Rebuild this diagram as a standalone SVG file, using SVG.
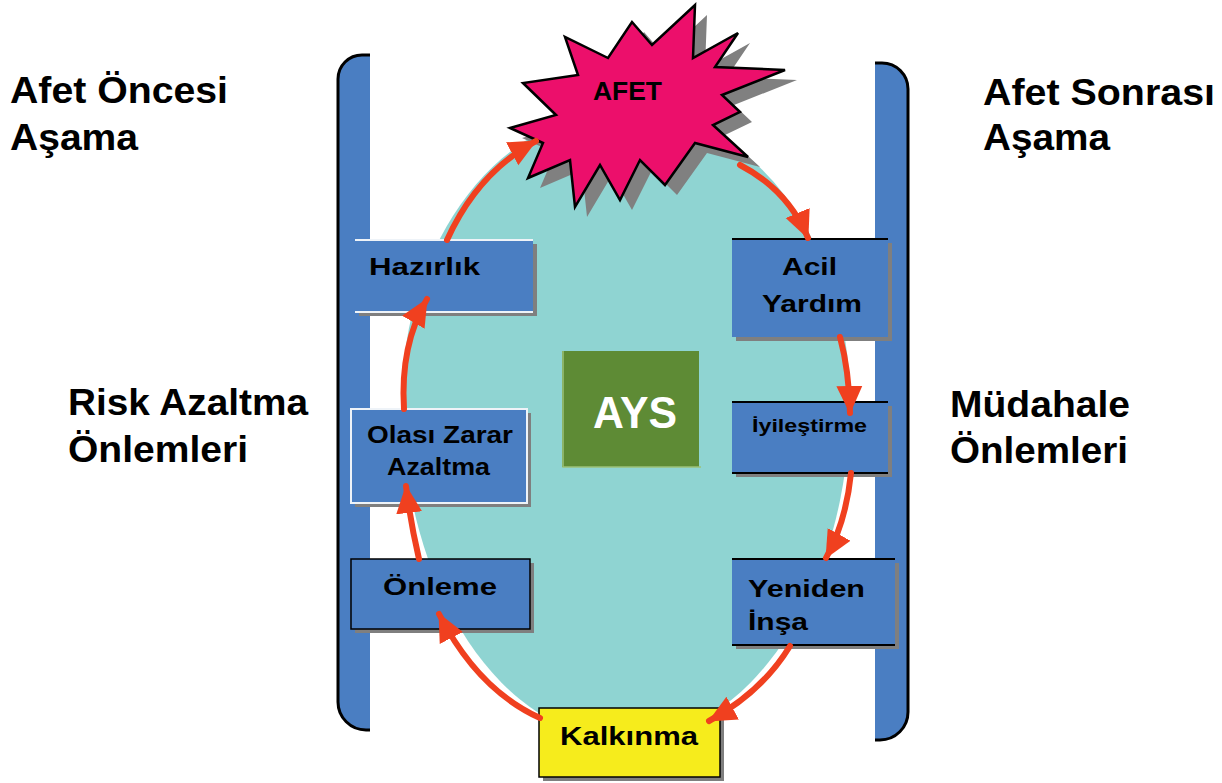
<svg xmlns="http://www.w3.org/2000/svg" width="1222" height="783" viewBox="0 0 1222 783">
<defs>
<style>
.lbl{font-family:"Liberation Sans",Arial,sans-serif;font-weight:bold;fill:#000;}
.side{font-size:36px;}
.bx{font-size:24px;}
.blue{fill:#4a7ec2;}
.shadow{fill:#7f7f7f;}
.arrow{fill:none;stroke:#f0401f;stroke-width:6;stroke-linecap:round;}
</style>
<marker id="ah" markerUnits="userSpaceOnUse" markerWidth="28" markerHeight="28" viewBox="0 0 28 28" refX="27" refY="14" orient="auto">
<path d="M0,1 L28,14 L0,27 Z" fill="#f0401f"/>
</marker>
</defs>
<rect width="1222" height="783" fill="#fff"/>

<g id="left-bar">
<path d="M370,55 H362 A24,24 0 0 0 338,79 V702 A28,28 0 0 0 366,730 H370 Z" class="blue"/>
<path d="M370,55 H362 A24,24 0 0 0 338,79 V702 A28,28 0 0 0 366,730 H370" fill="none" stroke="#000" stroke-width="3"/>
</g>
<g id="right-bar">
<path d="M875,63 H882 A26,26 0 0 1 908,89 V712 A28,28 0 0 1 880,740 H875 Z" class="blue"/>
<path d="M875,63 H882 A26,26 0 0 1 908,89 V712 A28,28 0 0 1 880,740 H875" fill="none" stroke="#000" stroke-width="3"/>
</g>

<g id="cycle">
<path d="M402,400 A224,290 0 0 1 850,400 A224,340 0 0 1 402,400 Z" fill="#8fd4d2"/>
</g>

<g id="afet">
<polygon transform="translate(12,10)" fill="#808080" points="510,128 556,115 523,83 578,75 565,37 608,58 632,22 652,45 695,5 693,58 738,33 715,67 785,70 722,95 740,112 713,125 748,157 695,143 665,185 640,160 620,200 600,165 575,207 570,160 528,178 543,143"/>
<polygon fill="#ec0f6b" stroke="#000" stroke-width="2.5" stroke-linejoin="miter" points="510,128 556,115 523,83 578,75 565,37 608,58 632,22 652,45 695,5 693,58 738,33 715,67 785,70 722,95 740,112 713,125 748,157 695,143 665,185 640,160 620,200 600,165 575,207 570,160 528,178 543,143"/>
<text class="lbl" x="593" y="100" font-size="25" textLength="69" lengthAdjust="spacingAndGlyphs">AFET</text>
</g>

<g id="ays">
<rect x="562" y="351" width="137" height="116" fill="#5e8b35"/>
<path d="M563,351 V467 H701" fill="none" stroke="#9cc27a" stroke-width="1.5"/>
<text x="593" y="428" font-family="Liberation Sans,Arial,sans-serif" font-weight="bold" font-size="44" fill="#fff" textLength="84" lengthAdjust="spacingAndGlyphs">AYS</text>
</g>

<g id="hazirlik">
<rect x="359" y="244" width="178" height="72" class="shadow"/>
<rect x="355" y="240" width="178" height="72" class="blue"/>
<path d="M355,240 H533 M355,312 H533" stroke="#eef3f8" stroke-width="2"/>
<text class="lbl bx" x="369" y="275" textLength="111" lengthAdjust="spacingAndGlyphs">Hazırlık</text>
</g>

<g id="olasi-zarar-azaltma">
<rect x="355" y="413" width="176" height="94" class="shadow"/>
<rect x="351" y="409" width="176" height="94" class="blue" stroke="#eef3f8" stroke-width="2"/>
<text class="lbl bx" x="367" y="443" textLength="146" lengthAdjust="spacingAndGlyphs">Olası Zarar</text>
<text class="lbl bx" x="387" y="475" textLength="103" lengthAdjust="spacingAndGlyphs">Azaltma</text>
</g>

<g id="onleme">
<rect x="355" y="563" width="179" height="70" class="shadow"/>
<rect x="351" y="559" width="179" height="70" class="blue" stroke="#000" stroke-width="1.5"/>
<text class="lbl bx" x="383" y="595" textLength="114" lengthAdjust="spacingAndGlyphs">Önleme</text>
</g>

<g id="acil-yardim">
<rect x="736" y="243" width="156" height="98" class="shadow"/>
<rect x="732" y="239" width="156" height="98" class="blue"/>
<path d="M732,239 H888" stroke="#000" stroke-width="2"/>
<text class="lbl bx" x="782" y="275" textLength="55" lengthAdjust="spacingAndGlyphs">Acil</text>
<text class="lbl bx" x="762" y="312" textLength="100" lengthAdjust="spacingAndGlyphs">Yardım</text>
</g>

<g id="iyilestirme">
<rect x="736" y="406" width="156" height="71" class="shadow"/>
<rect x="732" y="402" width="156" height="71" class="blue"/>
<path d="M732,402 H888 M732,473 H888" stroke="#000" stroke-width="2"/>
<text class="lbl" x="752" y="432" font-size="19" textLength="115" lengthAdjust="spacingAndGlyphs">İyileştirme</text>
</g>

<g id="yeniden-insa">
<rect x="736" y="563" width="163" height="86" class="shadow"/>
<rect x="732" y="559" width="163" height="86" class="blue"/>
<path d="M732,559 H895 M732,645 H895" stroke="#000" stroke-width="2"/>
<text class="lbl bx" x="748" y="597" textLength="117" lengthAdjust="spacingAndGlyphs">Yeniden</text>
<text class="lbl bx" x="748" y="630" textLength="60" lengthAdjust="spacingAndGlyphs">İnşa</text>
</g>

<g id="kalkinma">
<rect x="543" y="712" width="181" height="69" class="shadow"/>
<rect x="539" y="708" width="181" height="69" fill="#f6ec1c" stroke="#000" stroke-width="1.5"/>
<text class="lbl" x="560" y="745" font-size="26" textLength="138" lengthAdjust="spacingAndGlyphs">Kalkınma</text>
</g>

<g id="connectors">
<path class="arrow" marker-end="url(#ah)" d="M540,718 Q478,690 439,614"/>
<path class="arrow" marker-end="url(#ah)" d="M419,559 Q410,520 406,486"/>
<path class="arrow" marker-end="url(#ah)" d="M404,409 Q400,345 427,299"/>
<path class="arrow" marker-end="url(#ah)" d="M447,240 Q478,172 536,141"/>
<path class="arrow" marker-end="url(#ah)" d="M740,165 Q788,190 808,238"/>
<path class="arrow" marker-end="url(#ah)" d="M840,337 Q849,370 850,413"/>
<path class="arrow" marker-end="url(#ah)" d="M851,473 Q846,522 826,558"/>
<path class="arrow" marker-end="url(#ah)" d="M790,646 Q762,692 709,721"/>
</g>

<g id="labels">
<text class="lbl side" x="10" y="103" textLength="218" lengthAdjust="spacingAndGlyphs">Afet Öncesi</text>
<text class="lbl side" x="10" y="150" textLength="128" lengthAdjust="spacingAndGlyphs">Aşama</text>
<text class="lbl side" x="68" y="415" textLength="240" lengthAdjust="spacingAndGlyphs">Risk Azaltma</text>
<text class="lbl side" x="68" y="462" textLength="180" lengthAdjust="spacingAndGlyphs">Önlemleri</text>
<text class="lbl side" x="983" y="105" textLength="232" lengthAdjust="spacingAndGlyphs">Afet Sonrası</text>
<text class="lbl side" x="983" y="150" textLength="127" lengthAdjust="spacingAndGlyphs">Aşama</text>
<text class="lbl side" x="950" y="417" textLength="180" lengthAdjust="spacingAndGlyphs">Müdahale</text>
<text class="lbl side" x="950" y="463" textLength="178" lengthAdjust="spacingAndGlyphs">Önlemleri</text>
</g>
</svg>
